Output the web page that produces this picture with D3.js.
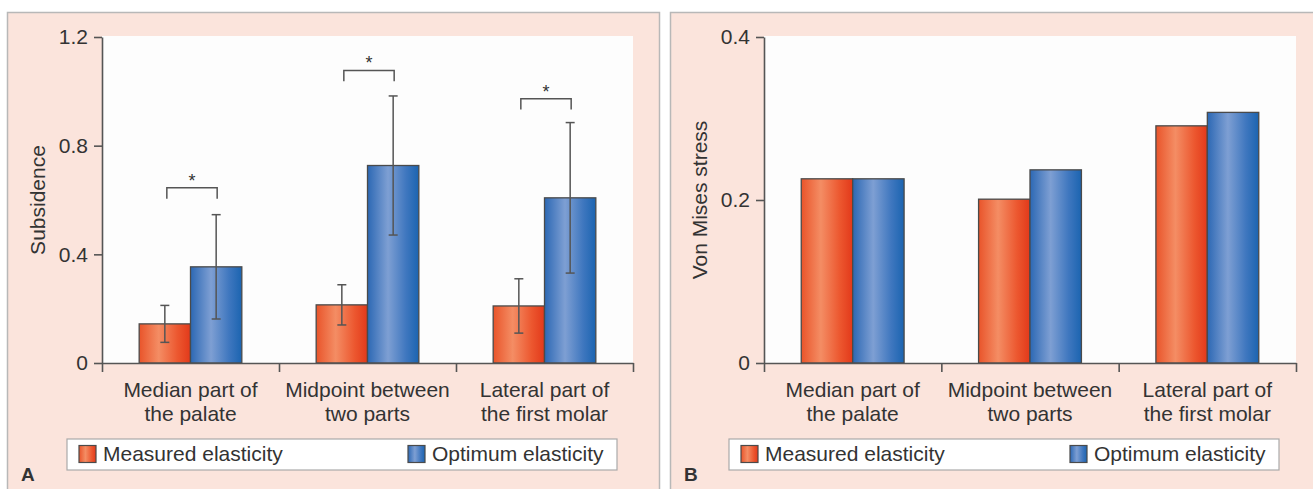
<!DOCTYPE html>
<html>
<head>
<meta charset="utf-8">
<script src="https://cdn.jsdelivr.net/npm/d3@7"></script>
<style>
  body { margin: 0; background: #fff; }
  text { font-family: "Liberation Sans", Arial, sans-serif; fill: #333; }
</style>
</head>
<body>
<div id="chart-area"></div>
<script>
// data
var categories = [["Median part of", "the palate"],
                  ["Midpoint between", "two parts"],
                  ["Lateral part of", "the first molar"]];
var seriesNames = ["Measured elasticity", "Optimum elasticity"];

// panel A - subsidence (mean +- sd)
var subsMeasured = [0.144, 0.214, 0.210];
var subsMeasuredErr = [0.068, 0.074, 0.100];
var subsOptimum = [0.354, 0.727, 0.608];
var subsOptimumErr = [0.192, 0.256, 0.277];
var sigLevels = [0.645, 1.077, 0.973];   // height of the * brackets
var subsTicks = [0, 0.4, 0.8, 1.2];
var subsTickLabels = ["0", "0.4", "0.8", "1.2"];

// panel B - von Mises stress
var stressMeasured = [0.226, 0.201, 0.291];
var stressOptimum = [0.226, 0.237, 0.3075];
var stressTicks = [0, 0.2, 0.4];
var stressTickLabels = ["0", "0.2", "0.4"];

var W = 1313, H = 489;
var svg = d3.select("#chart-area").append("svg")
    .attr("width", W)
    .attr("height", H);

// gradients for the bars
var defs = svg.append("defs");
function grad(id, stops) {
    var lg = defs.append("linearGradient").attr("id", id)
        .attr("x1", "0%").attr("x2", "100%").attr("y1", "0%").attr("y2", "0%");
    stops.forEach(function(s){
        lg.append("stop").attr("offset", s[0]).attr("stop-color", s[1]);
    });
}
grad("gRed", [["0%", "#e9542a"], ["38%", "#f48d64"], ["75%", "#ec572f"], ["100%", "#e2391a"]]);
grad("gBlue", [["0%", "#2c68b4"], ["40%", "#7e9fd3"], ["75%", "#3f77bf"], ["100%", "#1b64b0"]]);
var fills = ["url(#gRed)", "url(#gBlue)"];

function drawPanel(p) {
    var g = svg.append("g");

    // pink panel
    g.append("rect")
        .attr("x", p.left + 0.5).attr("y", 12.5)
        .attr("width", p.width).attr("height", H)
        .attr("fill", "#fbe4dc")
        .attr("stroke", "#b8b8b8")
        .attr("stroke-width", 1.5);

    var x0 = d3.scaleBand().domain(d3.range(categories.length))
        .range([p.x0, p.x1]);
    var x1 = d3.scaleBand().domain([0, 1])
        .range([x0.bandwidth() * 0.21, x0.bandwidth() * 0.79]);
    var y = d3.scaleLinear().domain([0, p.max]).range([363, 37]);
    var xEdges = d3.scaleLinear().domain([0, categories.length]).range([p.x0, p.x1]);

    // white plotting area
    g.append("rect")
        .attr("x", p.x0).attr("y", 36)
        .attr("width", p.x1 - p.x0).attr("height", 363 - 36)
        .attr("fill", "#fdfdfd");

    // bars
    var series = [p.a, p.b];
    series.forEach(function(vals, si){
        g.selectAll(".bar" + si).data(vals).enter().append("rect")
            .attr("x", function(d, i){ return x0(i) + x1(si); })
            .attr("y", function(d){ return y(d); })
            .attr("width", x1.bandwidth())
            .attr("height", function(d){ return y(0) - y(d); })
            .attr("fill", fills[si])
            .attr("stroke", "#4a4a4a")
            .attr("stroke-width", 1.3);
    });

    // error bars
    if (p.errA) {
        [p.errA, p.errB].forEach(function(errs, si){
            var vals = series[si];
            errs.forEach(function(e, i){
                var cx = x0(i) + x1(si) + x1.bandwidth() / 2;
                var eg = g.append("g").attr("stroke", "#555").attr("stroke-width", 1.5);
                eg.append("line").attr("x1", cx).attr("x2", cx)
                    .attr("y1", y(vals[i] + e)).attr("y2", y(vals[i] - e));
                eg.append("line").attr("x1", cx - 4.5).attr("x2", cx + 4.5)
                    .attr("y1", y(vals[i] + e)).attr("y2", y(vals[i] + e));
                eg.append("line").attr("x1", cx - 4.5).attr("x2", cx + 4.5)
                    .attr("y1", y(vals[i] - e)).attr("y2", y(vals[i] - e));
            });
        });
    }

    // significance brackets
    if (p.sig) {
        p.sig.forEach(function(lv, i){
            var xa = x0(i) + x1(0) + x1.bandwidth() / 2 + 2;
            var xb = x0(i) + x1(1) + x1.bandwidth() / 2 + 1;
            var top = y(lv), leg = y(lv - 0.04);
            g.append("path")
                .attr("d", "M" + xa + "," + leg + "V" + top + "H" + xb + "V" + leg)
                .attr("fill", "none").attr("stroke", "#555").attr("stroke-width", 1.5);
            g.append("text")
                .attr("x", (xa + xb) / 2).attr("y", top - 1)
                .attr("text-anchor", "middle")
                .attr("font-size", "18px")
                .text("*");
        });
    }

    // axes
    var yAxis = g.append("g")
        .attr("transform", "translate(" + p.x0 + ",0)")
        .call(d3.axisLeft(y).tickValues(p.ticks)
            .tickFormat(function(d, i){ return p.tickLabels[i]; })
            .tickSize(8).tickSizeOuter(0).tickPadding(6));
    var xAxis = g.append("g")
        .attr("transform", "translate(0,363)")
        .call(d3.axisBottom(xEdges).tickValues(d3.range(categories.length + 1))
            .tickFormat("").tickSize(9).tickSizeOuter(0));
    [yAxis, xAxis].forEach(function(ax){
        ax.selectAll("path, line").attr("stroke", "#555").attr("stroke-width", 1.6);
    });
    yAxis.selectAll("text")
        .attr("font-size", "21px")
        .attr("font-family", "Liberation Sans, Arial, sans-serif")
        .attr("fill", "#333");

    // category labels
    categories.forEach(function(lines, i){
        var t = g.append("text")
            .attr("x", x0(i) + x0.bandwidth() / 2)
            .attr("y", 397)
            .attr("text-anchor", "middle")
            .attr("font-size", "21px");
        lines.forEach(function(l, li){
            t.append("tspan")
                .attr("x", x0(i) + x0.bandwidth() / 2)
                .attr("dy", li === 0 ? 0 : 24)
                .text(l);
        });
    });

    // y label
    g.append("text")
        .attr("transform", "translate(" + (p.x0 - 57) + ",200) rotate(-90)")
        .attr("text-anchor", "middle")
        .attr("font-size", "21px")
        .text(p.yLabel);

    // legend
    var lg = g.append("g").attr("transform", "translate(" + (p.x0 - 35) + ",439)");
    lg.append("rect")
        .attr("width", 550).attr("height", 31)
        .attr("fill", "#fff").attr("stroke", "#aaa").attr("stroke-width", 1.2);
    var legX = [12, 341];
    seriesNames.forEach(function(name, si){
        lg.append("rect")
            .attr("x", legX[si]).attr("y", 6.5)
            .attr("width", 17).attr("height", 17)
            .attr("fill", fills[si]).attr("stroke", "#4a4a4a").attr("stroke-width", 1.2);
        lg.append("text")
            .attr("x", legX[si] + 24).attr("y", 22)
            .attr("font-size", "21px")
            .text(name);
    });

    // panel letter
    g.append("text")
        .attr("x", p.left + 14).attr("y", 481)
        .attr("font-size", "19px").attr("font-weight", "bold")
        .attr("fill", "#222")
        .text(p.letter);
}

drawPanel({ left: 7, width: 652, x0: 102, x1: 633, max: 1.2,
    a: subsMeasured, b: subsOptimum, errA: subsMeasuredErr, errB: subsOptimumErr,
    sig: sigLevels, ticks: subsTicks, tickLabels: subsTickLabels,
    yLabel: "Subsidence", letter: "A" });

drawPanel({ left: 670, width: 650, x0: 764, x1: 1296, max: 0.4,
    a: stressMeasured, b: stressOptimum,
    ticks: stressTicks, tickLabels: stressTickLabels,
    yLabel: "Von Mises stress", letter: "B" });
</script>
</body>
</html>
